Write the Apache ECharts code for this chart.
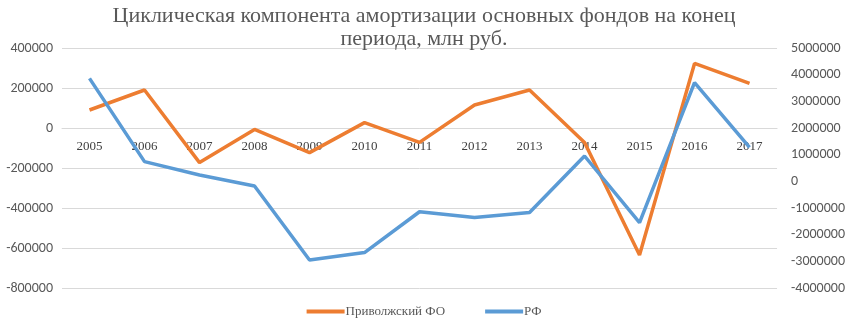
<!DOCTYPE html>
<html>
<head>
<meta charset="utf-8">
<script src="https://cdn.jsdelivr.net/npm/echarts@6/dist/echarts.min.js"></script>
<style>
  html, body { margin: 0; padding: 0; background: #fff; }
  #chart { width: 848px; height: 329px; }
</style>
</head>
<body>
<div id="chart"></div>
<script>
const years = ['2005', '2006', '2007', '2008', '2009', '2010', '2011', '2012', '2013', '2014', '2015', '2016', '2017']
// Приволжский ФО, левая ось
const volgaValues = [90000, 190000, -173000, -7000, -123000, 27000, -72000, 115000, 190000, -72000, -635000, 323000, 223000]
// РФ, правая ось
const rfValues = [3860000, 740000, 240000, -175000, -2950000, -2670000, -1140000, -1360000, -1170000, 950000, -1550000, 3700000, 1270000]

const serif = '"Liberation Serif", "DejaVu Serif", serif'
const sans = 'Carlito, "Liberation Sans", "Open Sans", sans-serif'

const plainNumber = (v) => String(v)

const myChart = echarts.init(document.getElementById('chart'))
const option = {
  animation: false,
  title: {
    text: 'Циклическая компонента амортизации основных фондов на конец\nпериода, млн руб.',
    left: 'center',
    top: 0,
    textStyle: {
      fontFamily: serif,
      fontWeight: 'normal',
      fontSize: 22,
      lineHeight: 23,
      color: '#595959'
    }
  },
  legend: {
    bottom: 6,
    left: 'center',
    itemWidth: 38,
    itemHeight: 4,
    itemGap: 40,
    icon: 'rect',
    textStyle: {
      fontFamily: serif,
      fontSize: 13,
      color: '#595959',
      padding: [0, 0, 0, -4]
    },
    data: ['Приволжский ФО', 'РФ']
  },
  grid: {
    left: 62,
    right: 70,
    top: 48,
    bottom: 41
  },
  xAxis: {
    type: 'category',
    data: years,
    boundaryGap: true,
    // подписи лет на нулевой линии левой оси
    offset: -160,
    axisLine: {
      show: true,
      onZero: false,
      lineStyle: { color: '#d9d9d9', width: 1 }
    },
    axisTick: { show: false },
    axisLabel: {
      fontFamily: serif,
      fontSize: 13,
      color: '#404040',
      margin: 12
    }
  },
  yAxis: [
    {
      type: 'value',
      min: -800000,
      max: 400000,
      interval: 200000,
      axisLine: { show: false },
      axisTick: { show: false },
      axisLabel: {
        fontFamily: sans,
        fontSize: 14,
        color: '#595959',
        margin: 9,
        formatter: plainNumber
      },
      splitLine: {
        lineStyle: { color: '#d9d9d9', width: 1 }
      }
    },
    {
      type: 'value',
      min: -4000000,
      max: 5000000,
      interval: 1000000,
      axisLine: { show: false },
      axisTick: { show: false },
      axisLabel: {
        fontFamily: sans,
        fontSize: 14,
        color: '#595959',
        margin: 14,
        formatter: plainNumber
      },
      splitLine: { show: false }
    }
  ],
  series: [
    {
      name: 'Приволжский ФО',
      type: 'line',
      yAxisIndex: 0,
      data: volgaValues,
      symbol: 'none',
      itemStyle: { color: '#ED7D31' },
      lineStyle: { color: '#ED7D31', width: 3.5 },
      z: 3
    },
    {
      name: 'РФ',
      type: 'line',
      yAxisIndex: 1,
      data: rfValues,
      symbol: 'none',
      itemStyle: { color: '#5B9BD5' },
      lineStyle: { color: '#5B9BD5', width: 3.5 },
      z: 4
    }
  ]
}
myChart.setOption(option)
</script>
</body>
</html>
